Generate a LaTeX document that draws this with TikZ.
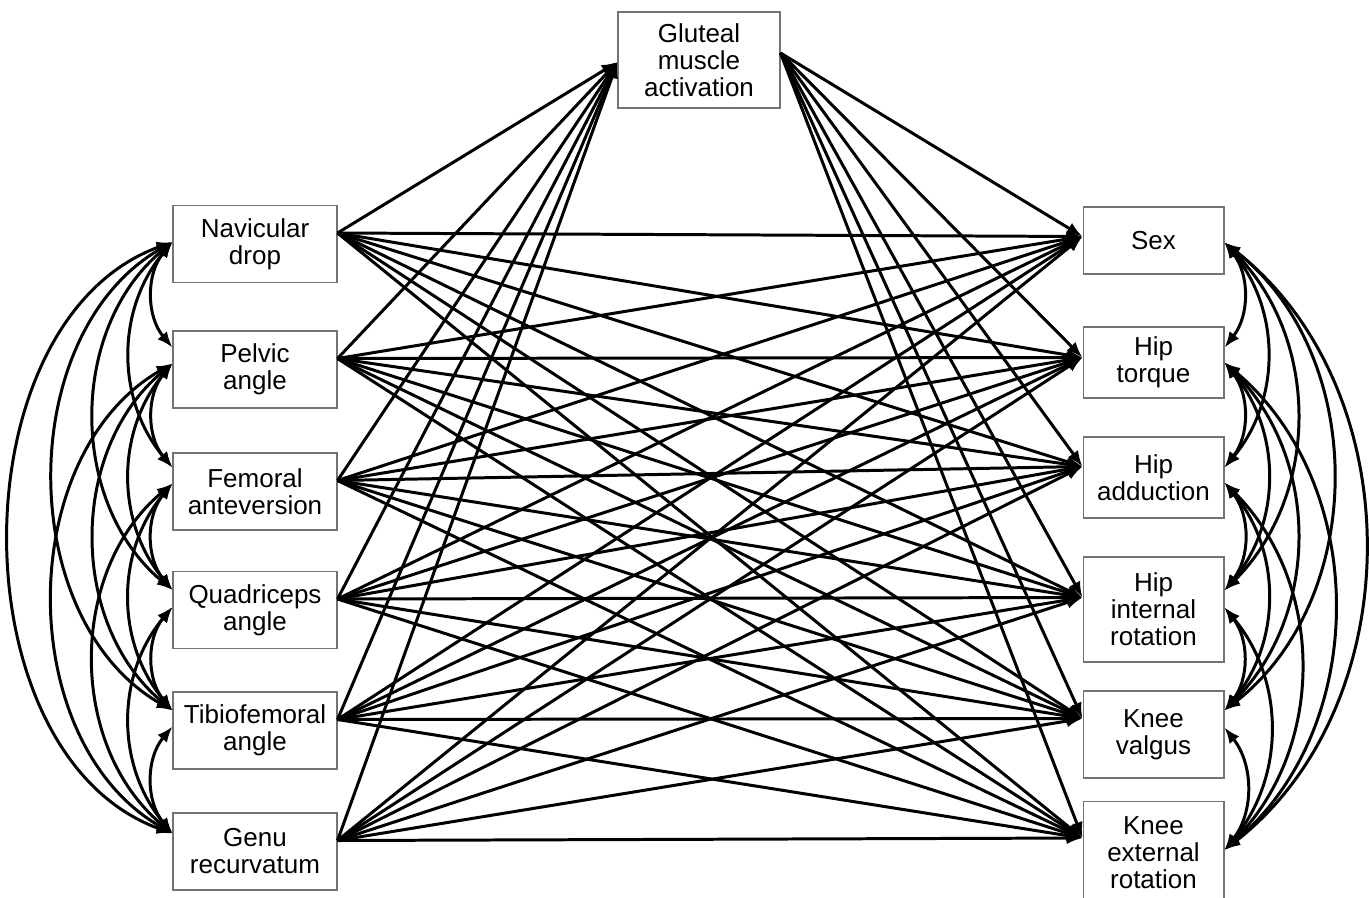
\documentclass[tikz,border=0pt]{standalone}
\usepackage{fontspec}
\setmainfont{Liberation Sans}
\usetikzlibrary{arrows.meta}
\usetikzlibrary{calc}
\tikzset{var/.style = {draw=black!55, line width=0.6pt, align=center, inner sep=0pt,
                       font=\fontsize{14.8}{15.4}\selectfont},
         leftvar/.style = {var, minimum width=3.28cm, minimum height=1.54cm},
         rightvar/.style = {var, minimum width=2.82cm},
         path/.style = {line width=1.7pt, -{Latex[length=9pt,width=7pt]}},
         corr/.style = {line width=1.7pt,
                        {Latex[length=9pt,width=7pt]}-{Latex[length=9pt,width=7pt]}}}

\begin{document}
\begin{tikzpicture}[x=0.02cm, y=-0.02cm]
    \useasboundingbox (0, 0) rectangle (1369, 897);

    \node [var, minimum width=3.24cm, minimum height=1.92cm] (glu) at (699, 60)
          {Gluteal\\ muscle\\ activation};

    % left column
    \node [leftvar] (nav) at (255, 244) {Navicular\\ drop};
    \node [leftvar] (pel) at (255, 369.5) {Pelvic\\ angle};
    \node [leftvar] (fem) at (255, 491.5) {Femoral\\ anteversion};
    \node [leftvar] (qua) at (255, 610) {Quadriceps\\ angle};
    \node [leftvar] (tib) at (255, 730.5) {Tibiofemoral\\ angle};
    \node [leftvar] (gen) at (255, 851.5) {Genu\\ recurvatum};

    % right column
    \node [rightvar, minimum height=1.34cm] (sex) at (1153.5, 240.5) {Sex};
    \node [rightvar, minimum height=1.42cm] (tor) at (1153.5, 362.5) {Hip\\ torque};
    \node [rightvar, minimum height=1.62cm] (add) at (1153.5, 477.5) {Hip\\ adduction};
    \node [rightvar, minimum height=2.10cm] (rot) at (1153.5, 609.5) {Hip\\ internal\\ rotation};
    \node [rightvar, minimum height=1.74cm] (val) at (1153.5, 734.5) {Knee\\ valgus};
    \node [rightvar, minimum height=2.08cm] (ext) at (1153.5, 853) {Knee\\ external\\ rotation};

    % ends of the paths
    \coordinate (glu-i) at ($(glu.west)+(0, 2)$);
    \coordinate (glu-o) at ($(glu.east)+(0, -7)$);
    \foreach \l in {nav, pel, fem, qua, tib, gen}
      \coordinate (\l-o) at ($(\l.east)+(0, -11)$);
    \foreach \r/\dy in {sex/-4, tor/-5, add/-11, rot/-12, val/-16, ext/-15}
      \coordinate (\r-i) at ($(\r.west)+(0, \dy)$);

    % ends of the correlations
    \foreach \l/\u/\d in {nav/0/-2, pel/-22/-6, fem/-24/-8, qua/-20/-3, tib/-20/-4, gen/-18/0} {
      \coordinate (\l-up) at ($(\l.west)+(0, \u)$);
      \coordinate (\l-lo) at ($(\l.west)+(0, \d)$);
    }
    \foreach \r/\u/\d in {sex/0/2, tor/-15/0, add/-10/5, rot/-19/-2, val/-24/-7, ext/-3/0} {
      \coordinate (\r-up) at ($(\r.east)+(0, \u)$);
      \coordinate (\r-lo) at ($(\r.east)+(0, \d)$);
    }

    % paths
    \foreach \l in {nav, pel, fem, qua, tib, gen} {
      \draw [path] (\l-o) -- (glu-i);
      \foreach \r in {sex, tor, add, rot, val, ext}
        \draw [path] (\l-o) -- (\r-i);
    }
    \foreach \r in {sex, tor, add, rot, val, ext}
      \draw [path] (glu-o) -- (\r-i);

    % correlations
    \foreach \a/\b/\t in {nav/pel/40, nav/fem/40, nav/qua/50, nav/tib/60, nav/gen/70,
                          pel/fem/40, pel/qua/40, pel/tib/50, pel/gen/60,
                          fem/qua/40, fem/tib/40, fem/gen/50,
                          qua/tib/40, qua/gen/40, tib/gen/40}
      \draw [corr] (\a-lo) to [bend right=\t] (\b-up);
    \foreach \a/\b/\t in {sex/tor/38, sex/add/40, sex/rot/45, sex/val/52, sex/ext/52,
                          tor/add/38, tor/rot/40, tor/val/45, tor/ext/50,
                          add/rot/38, add/val/40, add/ext/45,
                          rot/val/38, rot/ext/40, val/ext/38}
      \draw [corr] (\a-lo) to [bend left=\t] (\b-up);
  \end{tikzpicture}
\end{document}
